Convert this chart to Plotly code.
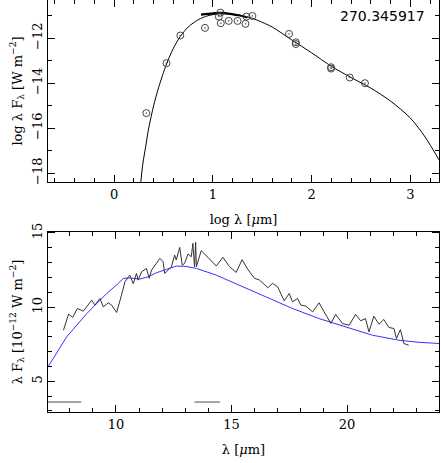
import plotly.graph_objects as go
from plotly.subplots import make_subplots

# Top panel: photometry (log lambda, log lambda F_lambda)
phot_x = [0.326, 0.53, 0.67, 0.92, 1.06, 1.077, 1.08, 1.16, 1.25, 1.33, 1.34, 1.40, 1.771, 1.84, 1.84, 2.197, 2.197, 2.386, 2.54]
phot_y = [-15.33, -13.11, -11.88, -11.54, -11.04, -10.86, -11.33, -11.23, -11.23, -11.36, -11.04, -11.01, -11.81, -12.18, -12.26, -13.29, -13.35, -13.75, -14.0]
model_x = [0.27, 0.29, 0.32, 0.35, 0.40, 0.45, 0.53, 0.60, 0.67, 0.75, 0.85, 0.95, 1.05, 1.15, 1.25, 1.35, 1.45, 1.6, 1.8, 2.0, 2.2, 2.4, 2.6, 2.8, 3.0, 3.15, 3.29]
model_y = [-18.4, -17.6, -16.8, -16.0, -15.0, -14.2, -13.15, -12.45, -11.92, -11.5, -11.18, -11.0, -10.92, -10.92, -10.97, -11.05, -11.2, -11.5, -12.08, -12.65, -13.25, -13.75, -14.22, -14.8, -15.55, -16.4, -17.41]
spec_top_x = [0.88, 0.95, 1.02, 1.10, 1.18, 1.26, 1.35]
spec_top_y = [-10.95, -10.92, -10.88, -10.87, -10.92, -10.98, -11.08]

# Bottom panel: spectrum (lambda, lambda F_lambda in 1e-12 W m^-2)
spec_x = [7.73, 7.95, 8.13, 8.33, 8.59, 8.95, 9.09, 9.31, 9.45, 9.67, 9.81, 10.03, 10.24, 10.39, 10.60, 10.75, 10.89, 10.96, 11.11, 11.32, 11.44, 11.54, 11.75, 11.90, 12.04, 12.11, 12.26, 12.40, 12.54, 12.61, 12.76, 12.87, 12.97, 13.12, 13.26, 13.33, 13.40, 13.45, 13.48, 13.62, 13.69, 13.98, 14.34, 14.63, 14.91, 15.20, 15.46, 15.70, 15.99, 16.21, 16.57, 16.78, 17.00, 17.28, 17.50, 17.64, 17.86, 18.00, 18.22, 18.51, 18.79, 19.01, 19.30, 19.51, 19.80, 20.09, 20.37, 20.59, 20.80, 20.95, 21.16, 21.38, 21.59, 21.81, 22.03, 22.14, 22.31, 22.46, 22.67]
spec_y = [8.45, 9.53, 9.31, 9.91, 9.73, 10.47, 10.14, 10.59, 10.02, 10.29, 10.14, 9.64, 10.81, 11.71, 12.16, 11.58, 12.27, 11.82, 12.38, 12.61, 11.94, 12.50, 12.95, 13.29, 13.06, 12.27, 12.50, 12.72, 13.51, 13.18, 14.03, 12.83, 12.95, 13.58, 13.40, 14.30, 12.72, 14.37, 12.72, 13.40, 13.81, 13.36, 12.77, 13.36, 12.74, 12.34, 13.20, 12.56, 11.95, 11.83, 11.31, 11.60, 11.37, 10.43, 10.92, 10.36, 10.59, 10.14, 10.07, 9.68, 10.29, 9.68, 8.90, 9.51, 8.90, 8.78, 9.51, 9.08, 9.23, 8.33, 9.39, 8.85, 9.17, 8.63, 8.56, 7.88, 8.49, 7.55, 7.43]
blue_x = [7.06, 7.87, 8.74, 9.60, 10.1, 10.32, 10.6, 11.03, 11.4, 11.75, 12.2, 12.61, 13.0, 13.48, 14.34, 15.34, 16.49, 17.64, 18.79, 19.94, 21.09, 22.24, 23.1, 23.98]
blue_y = [5.97, 8.0, 9.57, 10.92, 11.6, 11.94, 11.97, 11.89, 12.05, 12.32, 12.55, 12.77, 12.75, 12.61, 12.16, 11.49, 10.70, 9.91, 9.23, 8.67, 8.11, 7.77, 7.63, 7.55]
bar_segments = [(7.06, 8.5), (13.4, 14.5)]
bar_level = 3.6

fig = make_subplots(rows=2, cols=1, vertical_spacing=0.12)
fig.add_trace(go.Scatter(x=model_x, y=model_y, mode="lines", line=dict(color="black", width=1, shape="spline", smoothing=0.8)), 1, 1)
fig.add_trace(go.Scatter(x=spec_top_x, y=spec_top_y, mode="lines", line=dict(color="black", width=2.2, shape="spline")), 1, 1)
fig.add_trace(go.Scatter(x=phot_x, y=phot_y, mode="markers",
                         marker=dict(symbol="circle-dot", size=7, color="rgba(0,0,0,0)", line=dict(color="#444", width=1))), 1, 1)
fig.add_trace(go.Scatter(x=blue_x, y=blue_y, mode="lines", line=dict(color="#3333ff", width=1)), 2, 1)
fig.add_trace(go.Scatter(x=spec_x, y=spec_y, mode="lines", line=dict(color="#333", width=1)), 2, 1)
for a, b in bar_segments:
    fig.add_trace(go.Scatter(x=[a, b], y=[bar_level, bar_level], mode="lines", line=dict(color="#888", width=1.5)), 2, 1)

font = dict(family="DejaVu Serif", size=13, color="black")
ax = dict(showgrid=False, zeroline=False, showline=True, linecolor="black", mirror="ticks",
          ticks="inside", ticklen=7, tickcolor="black", tickfont=font, automargin=False,
          minor=dict(ticks="inside", ticklen=4, tickcolor="black"))
fig.update_xaxes(**ax)
fig.update_yaxes(**ax)
fig.update_xaxes(range=[-0.67, 3.29], dtick=1, minor_dtick=0.2, row=1, col=1,
                 title=dict(text="log λ [<i>μ</i>m]", font=font, standoff=14))
fig.update_yaxes(range=[-18.4, -10.3], tickvals=[-18, -16, -14, -12], ticktext=["−18", "−16", "−14", "−12"],
                 minor_dtick=1, tickangle=-90, row=1, col=1,
                 title=dict(text="log λ F<sub>λ</sub> [W m<sup>−2</sup>]", font=font, standoff=4))
fig.update_xaxes(range=[7.06, 23.98], dtick=5, minor_dtick=1, row=2, col=1,
                 title=dict(text="λ [<i>μ</i>m]", font=font, standoff=14))
fig.update_yaxes(range=[2.93, 15.07], dtick=5, minor_dtick=1, tickangle=-90, row=2, col=1,
                 title=dict(text="λ F<sub>λ</sub> [10<sup>−12</sup> W m<sup>−2</sup>]", font=font, standoff=4))
fig.update_layout(
    width=441, height=463, margin=dict(l=48, r=2, t=0, b=51),
    paper_bgcolor="white", plot_bgcolor="white", showlegend=False,
    yaxis=dict(domain=[0.558, 1.0]), yaxis2=dict(domain=[0.0, 0.437]),
    annotations=[dict(text="270.345917", x=0.97, y=0.985, xref="paper", yref="paper",
                      xanchor="right", yanchor="top", showarrow=False,
                      font=dict(family="DejaVu Sans, sans-serif", size=14, color="black"))],
)
fig.write_html("out.html", config={"displayModeBar": False},
               post_script="document.body.style.margin='0';document.body.style.overflow='hidden';")
